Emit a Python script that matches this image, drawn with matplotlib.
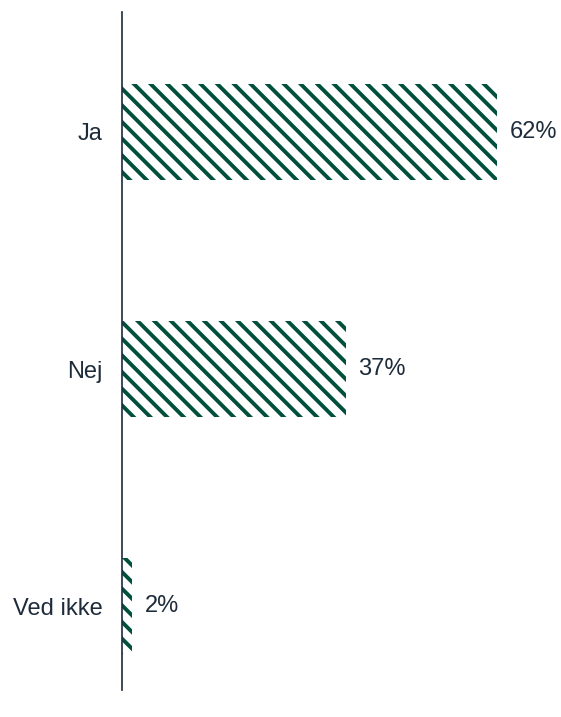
import matplotlib.pyplot as plt

categories = ["Ja", "Nej", "Ved ikke"]
values = [62, 37, 1.7]
labels = ["62%", "37%", "2%"]

green = "#00503c"
ink = "#1d2b3a"

plt.rcParams["font.family"] = ["Liberation Sans", "DejaVu Sans"]
plt.rcParams["hatch.linewidth"] = 2.8

fig = plt.figure(figsize=(5.61, 7.17), dpi=100)
ax = fig.add_axes([122 / 561, 27 / 717, 439 / 561, 678 / 717])

y = list(range(len(categories)))
bars = ax.barh(y, values, height=0.405, color="white", edgecolor=green,
               hatch="\\\\", linewidth=0)

for bar, txt in zip(bars, labels):
    ax.text(bar.get_width() + 2.1, bar.get_y() + bar.get_height() / 2, txt,
            va="center", ha="left", fontsize=17, color=ink)

ax.set_yticks(y)
ax.set_yticklabels(categories, fontsize=17, color=ink)
ax.tick_params(axis="y", length=0, pad=14)
ax.set_xticks([])
ax.set_xlim(0, 72.6)
ax.set_ylim(2.354, -0.506)

for side in ["top", "right", "bottom"]:
    ax.spines[side].set_visible(False)
ax.spines["left"].set_color(ink)
ax.spines["left"].set_linewidth(1.2)

fig.savefig("out.png", dpi=100)
